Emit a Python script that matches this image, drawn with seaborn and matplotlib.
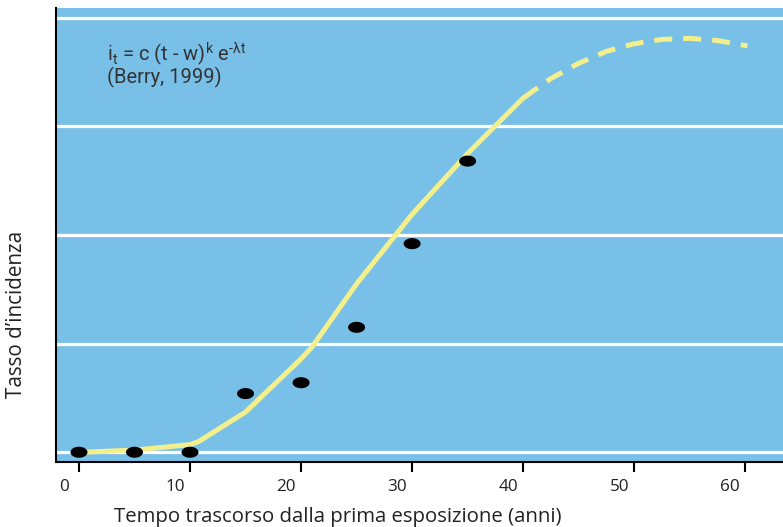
import numpy as np
import pandas as pd
import matplotlib
matplotlib.use("Agg")
import matplotlib.pyplot as plt
import matplotlib.transforms as mtransforms
import seaborn as sns

# ==========================
# DATI
# ==========================
anni_oss = [0, 5, 10, 15, 20, 25, 30, 35]
tasso_oss = [0.0, 0.0, 0.0, 0.54, 0.64, 1.15, 1.92, 2.68]

# modello di Berry: tratto osservato (continuo) e proiezione (tratteggiata)
anni_fit = [0.3, 5, 10, 10.8, 15, 20, 21, 25, 30, 35, 40]
tasso_fit = [0.0, 0.02, 0.07, 0.10, 0.37, 0.86, 0.97, 1.55, 2.19, 2.75, 3.26]
anni_proj = [40, 42.5, 45, 47.5, 50, 52.5, 55, 57.5, 60.2]
tasso_proj = [3.26, 3.44, 3.58, 3.69, 3.76, 3.80, 3.81, 3.79, 3.74]

x_ticks = [0, 10, 20, 30, 40, 50, 60]
y_grid = [0, 1, 2, 3, 4]

blu = "#78c0e8"
giallo = "#f3ef8c"

sns.set_theme(style="darkgrid", rc={
    "axes.facecolor": blu,
    "grid.color": "white",
    "grid.linewidth": 2.3,
    "axes.edgecolor": "black",
    "axes.linewidth": 1.5,
})
plt.rcParams["font.family"] = ["Open Sans", "DejaVu Sans"]

fig = plt.figure(figsize=(7.83, 5.27), dpi=100)
ax = fig.add_axes([0.0715, 0.1233, 0.9285, 0.8617])

df_oss = pd.DataFrame({"anni": anni_oss, "tasso": tasso_oss})
df_fit = pd.DataFrame({"anni": anni_fit, "tasso": tasso_fit})
df_proj = pd.DataFrame({"anni": anni_proj, "tasso": tasso_proj})

sns.lineplot(data=df_fit, x="anni", y="tasso", ax=ax, color=giallo,
             linewidth=3.6, sort=False, zorder=3)
sns.lineplot(data=df_proj, x="anni", y="tasso", ax=ax, color=giallo,
             linewidth=3.6, sort=False, zorder=3)
ax.lines[-1].set_dashes((3.6, 2.2))

# marcatore ellittico
th = np.linspace(0, 2 * np.pi, 40)
ellisse = np.c_[np.cos(th), 0.65 * np.sin(th)]
sns.scatterplot(data=df_oss, x="anni", y="tasso", ax=ax, marker=ellisse,
                s=150, color="black", edgecolor="none", zorder=4)

ax.set_xlim(-2.07, 63.4)
ax.set_ylim(-0.09, 4.09)
ax.set_yticks(y_grid)
ax.set_yticklabels([])
ax.tick_params(axis="y", length=0)
ax.set_xticks(x_ticks)
ax.tick_params(axis="x", direction="out", length=7, width=1.5, color="black",
               bottom=True, labelsize=12.3, labelcolor="#222222", pad=5)
ax.grid(False, axis="x")
ax.grid(True, axis="y")
for lato in ["top", "right"]:
    ax.spines[lato].set_visible(False)

# etichette leggermente spostate a sinistra come nell'originale
offset = mtransforms.ScaledTranslation(-0.15, 0, fig.dpi_scale_trans)
for lab in ax.get_xticklabels():
    lab.set_transform(lab.get_transform() + offset)

ax.set_xlabel("Tempo trascorso dalla prima esposizione (anni)", fontsize=14.7,
              color="#222222")
ax.set_ylabel("Tasso d\u2019incidenza", fontsize=14.9, color="#222222")
ax.xaxis.set_label_coords(0.388, -0.098)
ax.yaxis.set_label_coords(-0.04, 0.324)

ax.text(0.07, 0.883,
        "i$_\\mathregular{t}$ = c (t - w)$^\\mathregular{k}$ e$^\\mathregular{\u2010\u03bbt}$",
        transform=ax.transAxes, fontsize=14.5, color="#333333",
        family=["Roboto", "DejaVu Sans"], va="baseline")
ax.text(0.07, 0.835, "(Berry, 1999)", transform=ax.transAxes, fontsize=14.5,
        color="#333333", family=["Roboto", "DejaVu Sans"], va="baseline")

fig.savefig("out.png", dpi=100)
